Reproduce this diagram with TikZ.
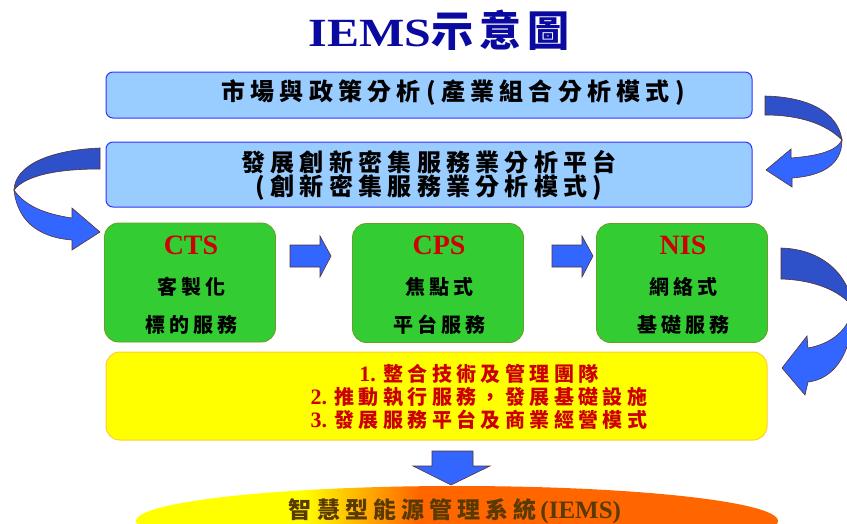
\documentclass[tikz,border=0pt]{standalone}
\usepackage{fontspec}
\setmainfont{Liberation Serif}
\newfontfamily\cjk{Noto Sans CJK TC}
\definecolor{boxblue}{HTML}{99CCFF}
\definecolor{boxblueedge}{HTML}{3333FF}
\definecolor{grn}{HTML}{33CC33}
\definecolor{grnedge}{HTML}{66A022}
\definecolor{ylw}{HTML}{FFFF00}
\definecolor{ylwedge}{HTML}{FFCC33}
\definecolor{arrdark}{HTML}{2E50C8}
\definecolor{arrbright}{HTML}{3366FF}
\definecolor{arredge}{HTML}{5A3030}
\definecolor{titleblue}{HTML}{0A0AA0}
\definecolor{redtxt}{HTML}{D00000}
\definecolor{yred}{HTML}{CC0000}
\definecolor{brn}{HTML}{5A3A00}
\definecolor{orng}{HTML}{FF6600}
\pgfdeclarehorizontalshading{iemsshade}{100bp}{color(0bp)=(ylw); color(38bp)=(ylw); color(47bp)=(orng); color(100bp)=(orng)}
\newcommand{\cjkt}[3][18]{{\cjk\bfseries\fontsize{#2}{#2}\selectfont\addfontfeature{LetterSpace=#1}#3}}
\begin{document}
\begin{tikzpicture}[x=1pt,y=-1pt,
  bluebox/.style={draw=boxblueedge, fill=boxblue, line width=1pt, rounded corners=7pt, inner sep=0pt},
  greenbox/.style={draw=grnedge, fill=grn, line width=0.8pt, rounded corners=14pt, inner sep=0pt, minimum width=171pt, minimum height=119pt},
  yellowbox/.style={draw=ylwedge, fill=ylw, line width=1pt, rounded corners=14pt, inner sep=0pt},
  txt/.style={inner sep=0pt, anchor=center},
  flatarrow/.style={fill=arrbright, draw=arredge, line width=0.6pt, line join=miter},
  darkband/.style={fill=arrdark, draw=arredge, line width=0.6pt},
  brightband/.style={fill=arrbright, draw=arredge, line width=0.6pt, line join=miter}]
\clip (0,0) rectangle (847,523);
\fill[white] (0,0) rectangle (847,523);

% title
\node[txt] (title) at (439,30) {\textcolor{titleblue}{\scalebox{1.2}[1]{\fontsize{40}{42}\selectfont\bfseries IEMS}{\cjk\bfseries\fontsize{42}{44}\selectfont\addfontfeature{LetterSpace=14}示意圖}}};

% boxes 1 and 2
\node[bluebox, minimum width=646pt, minimum height=46pt] (b1) at (429,95) {};
\node[txt] (t1) at (453,93) {\cjkt[22]{24}{市場與政策分析(產業組合分析模式)}};
\node[bluebox, minimum width=646pt, minimum height=65pt] (b2) at (429,174.5) {};
\node[txt] (t2a) at (429,162) {\cjkt[22]{24}{發展創新密集服務業分析平台}};
\node[txt] (t2b) at (429,188) {\cjkt[22]{24}{(創新密集服務業分析模式)}};

% green boxes
\node[greenbox] (cts) at (190,282.5) {};
\node[greenbox] (cps) at (438,283) {};
\node[greenbox] (nis) at (682,283) {};
\foreach \n/\x/\a/\b/\c in {cts/190/CTS/客製化/標的服務, cps/438/CPS/焦點式/平台服務, nis/682/NIS/網絡式/基礎服務}{
  \node[txt] (\n-h) at (\x+1,245) {\textcolor{redtxt}{\fontsize{28}{30}\selectfont\bfseries \a}};
  \node[txt] (\n-l1) at (\x+1,287) {\cjkt[20]{20}{\b}};
  \node[txt] (\n-l2) at (\x+1,325) {\cjkt[20]{20}{\c}};
}

% straight arrows
\draw[flatarrow] (290,245) -- (320,245) -- (320,236) -- (331,256) -- (320,277) -- (320,267) -- (290,267) -- cycle;
\draw[flatarrow] (552,245) -- (582,245) -- (582,236) -- (593,256) -- (582,277) -- (582,267) -- (552,267) -- cycle;

% yellow box
\node[yellowbox, minimum width=661pt, minimum height=88pt] (yb) at (436.5,396) {};
\node[txt] (y1) at (479,374) {\textcolor{yred}{{\fontsize{22}{22}\selectfont\bfseries 1. }\cjkt[22]{20}{整合技術及管理團隊}}};
\node[txt] (y2) at (479,397) {\textcolor{yred}{{\fontsize{22}{22}\selectfont\bfseries 2. }\cjkt[22]{20}{推動執行服務，發展基礎設施}}};
\node[txt] (y3) at (479,420) {\textcolor{yred}{{\fontsize{22}{22}\selectfont\bfseries 3. }\cjkt[22]{20}{發展服務平台及商業經營模式}}};

% down arrow
\draw[flatarrow] (432,451) -- (473,451) -- (473,466) -- (490,466) -- (451,485) -- (413,466) -- (432,466) -- cycle;

% ellipse
\shade[shading=iemsshade] (457,521) ellipse [x radius=321, y radius=35];
\node[txt] (ell) at (455,511) {\textcolor{brn}{\cjkt[22]{23}{智慧型能源管理系統}\hspace{4pt}{\fontsize{25}{26}\selectfont\bfseries (IEMS)}}};

% curved arrow A (top right)
\draw[darkband] (765,96) .. controls (810,97) and (838,113) .. (842,140) .. controls (826,124) and (800,115) .. (765,115) -- cycle;
\draw[brightband] (842,140) .. controls (842,166) and (820,176) .. (792,178) -- (792,187) -- (766,170) -- (791,149) -- (791,158) .. controls (815,156) and (836,152) .. (842,140) -- cycle;

% curved arrow B (left)
\draw[darkband] (100,148) .. controls (50,150) and (15,165) .. (14,190) .. controls (25,176) and (55,169) .. (100,169) -- cycle;
\draw[brightband] (14,190) .. controls (18,226) and (45,238) .. (72,240) -- (72,250) -- (100,232) -- (72,208) -- (72,218) .. controls (45,214) and (25,206) .. (14,190) -- cycle;

% curved arrow C (lower right)
\draw[darkband] (781,248) .. controls (820,249) and (848,272) .. (853,307) .. controls (840,291) and (815,280) .. (781,279) -- cycle;
\draw[brightband] (853,307) .. controls (853,352) and (835,379) .. (808,382) -- (805,395) -- (782,368) -- (807,336) -- (808,348) .. controls (830,344) and (849,331) .. (853,307) -- cycle;
\end{tikzpicture}
\end{document}
